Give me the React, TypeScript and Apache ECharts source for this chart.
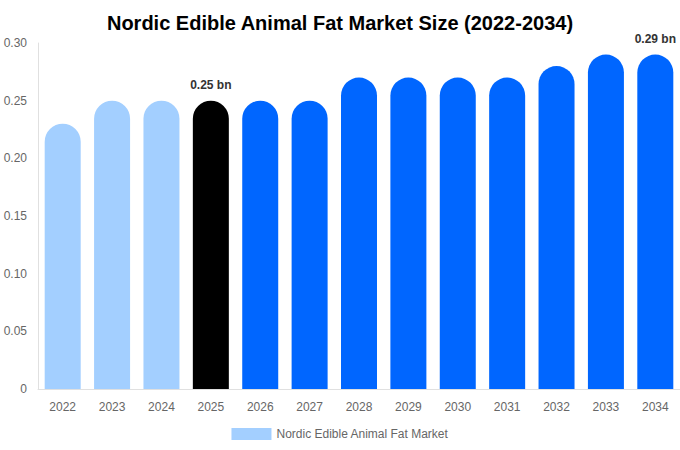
import React, { useEffect, useRef } from "react";
import * as echarts from "echarts";

const years = ["2022", "2023", "2024", "2025", "2026", "2027", "2028", "2029", "2030", "2031", "2032", "2033", "2034"];
const values = [0.23, 0.25, 0.25, 0.25, 0.25, 0.25, 0.27, 0.27, 0.27, 0.27, 0.28, 0.29, 0.29];
const barColors = ["#a3cfff", "#a3cfff", "#a3cfff", "#000000", "#0066ff", "#0066ff", "#0066ff", "#0066ff", "#0066ff", "#0066ff", "#0066ff", "#0066ff", "#0066ff"];
const labeledIndex = [3, 12];
const seriesName = "Nordic Edible Animal Fat Market";
const title = "Nordic Edible Animal Fat Market Size (2022-2034)";

export default function App() {
  const ref = useRef<HTMLDivElement>(null);
  useEffect(() => {
    if (!ref.current) return;
    const chart = echarts.init(ref.current, null, { renderer: "svg" });
    chart.setOption({
      animation: false,
      title: {
        text: title,
        left: "center",
        top: 8,
        textStyle: { fontFamily: "Liberation Sans, Arial, sans-serif", fontSize: 20, fontWeight: "bold", color: "#000" },
      },
      legend: {
        bottom: 5,
        left: "center",
        itemWidth: 40,
        itemHeight: 12,
        icon: "rect",
        textStyle: { fontFamily: "Liberation Sans, Arial, sans-serif", fontSize: 12, color: "#666" },
        data: [{ name: seriesName, itemStyle: { color: "#a3cfff" } }],
      },
      grid: { left: 38, right: 0, top: 43, bottom: 61 },
      xAxis: {
        type: "category",
        data: years,
        axisLine: { lineStyle: { color: "#e0e0e0" } },
        axisTick: { show: false },
        axisLabel: { fontFamily: "Liberation Sans, Arial, sans-serif", fontSize: 12, color: "#666", margin: 12 },
      },
      yAxis: {
        type: "value",
        min: 0,
        max: 0.3,
        interval: 0.05,
        axisLine: { show: true, lineStyle: { color: "#e0e0e0" } },
        axisTick: { show: false },
        splitLine: { show: false },
        axisLabel: {
          fontFamily: "Liberation Sans, Arial, sans-serif",
          fontSize: 12,
          color: "#666",
          margin: 11,
          formatter: (v: number) => (v === 0 ? "0" : v.toFixed(2)),
        },
      },
      series: [
        {
          name: seriesName,
          type: "bar",
          barWidth: 36,
          data: values.map((v, i) => ({
            value: v,
            itemStyle: { color: barColors[i], borderRadius: [18, 18, 0, 0] },
            label: labeledIndex.includes(i)
              ? {
                  show: true,
                  position: "top",
                  distance: 10,
                  formatter: (p: any) => p.value.toFixed(2) + " bn",
                  fontFamily: "Liberation Sans, Arial, sans-serif",
                  fontSize: 12,
                  fontWeight: "bold",
                  color: "#333",
                }
              : { show: false },
          })),
        },
      ],
    });
    return () => chart.dispose();
  }, []);
  return <div ref={ref} style={{ position: "absolute", left: 0, top: 0, width: 680, height: 450 }} />;
}
